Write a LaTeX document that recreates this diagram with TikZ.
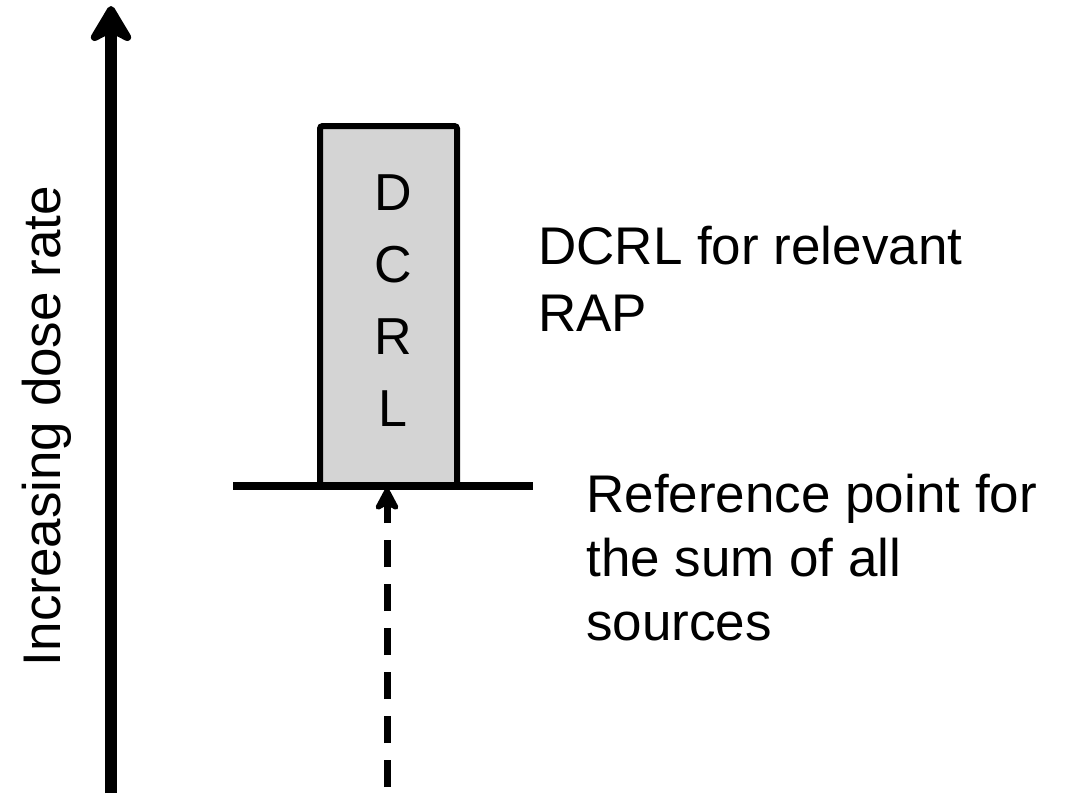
\documentclass[tikz,border=0pt]{standalone}
\usepackage{fontspec}
\setmainfont{Liberation Sans}
\usetikzlibrary{arrows.meta, positioning}

\begin{document}
\begin{tikzpicture}[
    x=0.75pt, y=-0.75pt,
    label/.style={inner sep=0pt, font=\fontsize{39.75}{48}\selectfont, align=left},
    bar/.style={draw, line width=4.5pt, fill=black!17, rounded corners=2pt, minimum width=102.75pt, minimum height=270pt, inner sep=0pt},
    axis/.style={-{Stealth[length=33pt, width=39pt, inset=10pt, round]}, line width=9pt},
    sumline/.style={-{Stealth[length=21pt, width=22pt, inset=6pt, round]}, line width=5.25pt, dash pattern=on 20.25pt off 12.75pt, dash phase=28.5pt}
]
\useasboundingbox (0,0) rectangle (1066,793);

% dose rate axis
\coordinate (axisbot) at (111,793);
\coordinate (axistop) at (111,6);
\draw[axis] (axisbot) -- (axistop);
\node[label, rotate=90, anchor=base] (axislabel) at (60,426) {Increasing dose rate};

% DCRL bar and reference level
\node[bar] (dcrl) at (388.5,306) {};
\node[label, align=center, font=\fontsize{39}{54}\selectfont] (dcrltext) at (393,301) {D\\C\\R\\L};
\coordinate (refL) at (233,486);
\coordinate (refR) at (533,486);
\draw[line width=6pt] (refL) -- (refR);

% sum of all sources
\coordinate (sumbot) at (387,793);
\coordinate (sumtop) at (387,488);
\draw[sumline] (sumbot) -- (sumtop);

\node[label, anchor=base west, font=\fontsize{39.75}{50}\selectfont] (dcrllabel) at (538,331) {DCRL for relevant\\RAP};
\node[label, anchor=base west] (reflabel) at (586,640) {Reference point for\\the sum of all\\sources};
\end{tikzpicture}
\end{document}
